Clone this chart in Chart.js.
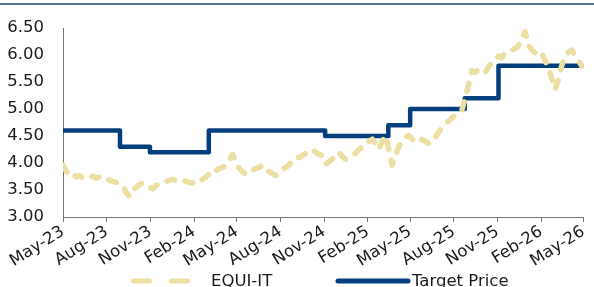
<!DOCTYPE html>
<html><head><meta charset="utf-8">
<script src="https://cdn.jsdelivr.net/npm/chart.js@4/dist/chart.umd.min.js"></script>
<style>html,body{margin:0;padding:0;background:#fff}#wrap{width:594px;height:287px;position:relative}</style>
</head><body><div id="wrap"><canvas id="c" width="594" height="287"></canvas></div>
<script>
// ---- data ----
const tickLabels = ["May-23","Aug-23","Nov-23","Feb-24","May-24","Aug-24","Nov-24","Feb-25","May-25","Aug-25","Nov-25","Feb-26","May-26"];
const tickDays = [0,92,184,276,366,458,550,642,731,823,915,1007,1096]; // days since 1 May 2023
// EQUI-IT weekly closes (week index from 1 May 2023)
const equiWeekly = [
3.96,3.85,3.77,3.80,3.74,3.77,3.72,3.70,3.73,3.76,
3.72,3.74,3.70,3.71,3.68,3.66,3.64,3.61,3.58,3.45,
3.38,3.48,3.55,3.60,3.63,3.61,3.56,3.52,3.58,3.62,
3.65,3.66,3.68,3.70,3.67,3.69,3.68,3.66,3.64,3.63,
3.61,3.66,3.70,3.74,3.80,3.88,3.86,3.90,3.92,3.95,
4.05,4.16,4.02,3.90,3.84,3.79,3.83,3.87,3.90,3.92,
3.96,3.90,3.84,3.80,3.77,3.82,3.88,3.92,3.96,4.05,
4.11,4.10,4.14,4.18,4.22,4.25,4.20,4.16,4.14,3.98,
4.02,4.07,4.12,4.20,4.12,4.07,4.10,4.14,4.18,4.25,
4.30,4.38,4.40,4.44,4.36,4.25,4.40,4.51,4.25,3.96,
4.14,4.30,4.42,4.48,4.51,4.45,4.38,4.42,4.44,4.40,
4.36,4.38,4.48,4.57,4.66,4.73,4.78,4.84,4.88,4.93,
4.98,5.20,5.45,5.71,5.68,5.73,5.70,5.67,5.78,5.86,
5.92,5.98,5.95,6.04,6.06,6.09,6.12,6.17,6.30,6.43,
6.17,6.10,6.04,6.00,6.04,5.90,5.76,5.58,5.36,5.54,
5.80,5.98,6.05,6.09,6.00,5.91,5.80
];
// Target price: change days and values
const targetDays = [0,120,183,307,552,685,731,846,917,1096];
const targetValues = [4.60,4.30,4.20,4.60,4.50,4.70,5.00,5.20,5.80,5.80];
const yTicks = [3.00,3.50,4.00,4.50,5.00,5.50,6.00,6.50];

const FONT = "'DejaVu Sans', sans-serif";
const GOLD = '#EBDFA3';
const NAVY = '#053E7D';

const equiData = equiWeekly.map((v,i)=>({x:Math.min(i*7,1096), y:v}));
const targetData = targetDays.map((d,i)=>({x:d, y:targetValues[i]}));

const extras = {
  id:'extras',
  beforeDraw(chart){
    const ctx = chart.ctx;
    ctx.save();
    ctx.fillStyle='#fff';
    ctx.fillRect(0,0,chart.width,chart.height);
    ctx.strokeStyle='#1F3F77';
    ctx.lineWidth=1.5;
    ctx.beginPath(); ctx.moveTo(0,4); ctx.lineTo(chart.width,4); ctx.stroke();
    ctx.restore();
  },
  afterDraw(chart){
    const ctx = chart.ctx;
    ctx.save();
    const y = 281;
    ctx.lineCap='round';
    ctx.lineWidth=5;
    ctx.strokeStyle=GOLD;
    ctx.setLineDash([16,22]);
    ctx.beginPath(); ctx.moveTo(133.5,y); ctx.lineTo(187.5,y); ctx.stroke();
    ctx.setLineDash([]);
    ctx.strokeStyle=NAVY;
    ctx.beginPath(); ctx.moveTo(338,y); ctx.lineTo(408,y); ctx.stroke();
    ctx.fillStyle='#1a1a1a';
    ctx.font="16.5px "+FONT;
    ctx.textBaseline='middle';
    ctx.fillText(chart.data.datasets[0].label,211,y+1);
    ctx.fillText(chart.data.datasets[1].label,412,y+1);
    ctx.restore();
  }
};

new Chart(document.getElementById('c'),{
  type:'line',
  data:{datasets:[
    {label:'EQUI-IT',data:equiData,borderColor:GOLD,borderWidth:5.5,borderDash:[8,11],
     borderCapStyle:'round',borderJoinStyle:'round',pointRadius:0,tension:0,fill:false},
    {label:'Target Price',data:targetData,borderColor:NAVY,borderWidth:4.5,stepped:true,
     borderJoinStyle:'round',pointRadius:0,fill:false}
  ]},
  options:{
    responsive:false,animation:false,
    layout:{padding:{top:28,right:9,left:0,bottom:0}},
    plugins:{legend:{display:false},tooltip:{enabled:false}},
    scales:{
      x:{type:'linear',min:0,max:1096,
        afterBuildTicks(s){s.ticks=tickDays.map(v=>({value:v}));},
        afterFit(s){s.height=70;},
        grid:{display:true,drawOnChartArea:false,drawTicks:true,tickLength:5,color:'#777',tickColor:'#777'},
        border:{display:true,color:'#777',width:1},
        ticks:{autoSkip:false,maxRotation:32,minRotation:32,padding:0,color:'#1a1a1a',
          font:{family:FONT,size:16.5},
          callback(v){const i=tickDays.indexOf(v);return i>=0?tickLabels[i]:'';}}
      },
      y:{min:3,max:6.5,
        afterBuildTicks(s){s.ticks=yTicks.map(v=>({value:v}));},
        afterFit(s){s.width=63;},
        grid:{display:false},
        border:{display:true,color:'#777',width:1},
        ticks:{padding:11,color:'#1a1a1a',font:{family:FONT,size:16.5},
          callback(v){return Number(v).toFixed(2);}}
      }
    }
  },
  plugins:[extras]
});
</script></body></html>
